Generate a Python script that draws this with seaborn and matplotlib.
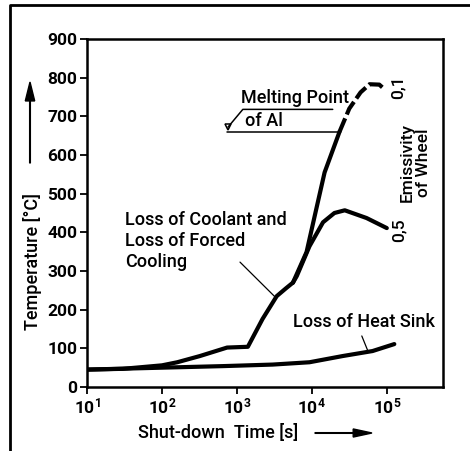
import numpy as np
import pandas as pd
import seaborn as sns
import matplotlib.pyplot as plt
from matplotlib.lines import Line2D
from matplotlib.patches import FancyArrow
from matplotlib.ticker import LogLocator, NullLocator

# ---------------------------------------
# Data
# ---------------------------------------
# common branch of "loss of coolant and loss of forced cooling"
t_shared = [10, 30, 100, 160, 320, 740, 1400, 2200, 3400, 4500, 5600]
T_shared = [45, 47, 56, 64, 80, 102, 104, 176, 235, 255, 270]

# emissivity 0.1 - solid up to melting point, dashed above
t_e01 = [5600, 8500, 11700, 14800, 23400]
T_e01 = [270, 349, 468, 555, 660]
t_e01_dash = [23400, 31600, 44700, 58900, 79400, 93300]
T_e01_dash = [660, 720, 762, 783, 782, 770]

# emissivity 0.5
t_e05 = [5600, 6300, 9300, 14100, 20000, 27500, 53700, 100000]
T_e05 = [270, 287, 364, 426, 450, 457, 437, 411]

# loss of heat sink
t_sink = [10, 100, 646, 3000, 9300, 25700, 64600, 126000]
T_sink = [45, 50, 54, 58, 64, 80, 93, 111]

melting_point = 660
y_ticks = [0, 100, 200, 300, 400, 500, 600, 700, 800, 900]

# ---------------------------------------
# Theme
# ---------------------------------------
sns.set_theme(style="ticks")
plt.rcParams["font.family"] = ["Roboto", "Liberation Sans", "DejaVu Sans"]
plt.rcParams["font.weight"] = "medium"
for key in ["text.color", "axes.labelcolor", "xtick.color", "ytick.color"]:
    plt.rcParams[key] = "black"

fig = plt.figure(figsize=(4.70, 4.51), dpi=100)
ax = fig.add_axes([87 / 470, 1 - 387 / 451, (443 - 87) / 470, (387 - 39) / 451])

lw = 3.0
for t, T in [(t_shared, T_shared), (t_e01, T_e01), (t_e05, T_e05), (t_sink, T_sink)]:
    sns.lineplot(x=t, y=T, ax=ax, color="black", lw=lw, sort=False,
                 solid_capstyle="round", solid_joinstyle="round")
sns.lineplot(x=t_e01_dash, y=T_e01_dash, ax=ax, color="black", lw=lw,
             sort=False)
ax.lines[-1].set_dashes((3.5, 1.0))
ax.lines[-1].set_dash_capstyle("butt")

ax.set_xscale("log")
ax.set_xlim(10, 10 ** 5.75)
ax.set_ylim(0, 900)
ax.set_yticks(y_ticks)
ax.xaxis.set_major_locator(LogLocator(base=10, numticks=10))
ax.xaxis.set_minor_locator(NullLocator())

for s in ax.spines.values():
    s.set_linewidth(1.8)
    s.set_color("black")
ax.tick_params(axis="both", direction="out", length=5, width=1.3,
               labelsize=12.5, pad=2)
for lab in ax.get_xticklabels() + ax.get_yticklabels():
    lab.set_fontweight("bold")

# ---------------------------------------
# Melting point annotation
# ---------------------------------------
ax.plot([740, 23400], [melting_point, melting_point], color="black", lw=1.1)
ax.plot([760], [672], marker="v", ms=5, mfc="white", mec="black", mew=1.1)
ax.plot([760, 1200, 19000], [672, 718, 718], color="black", lw=1.1)
ax.text(1120, 724, "Melting Point", fontsize=13, ha="left", va="bottom")
ax.text(1300, 688, "of Al", fontsize=13, ha="left", va="center")

# ---------------------------------------
# Curve labels
# ---------------------------------------
ax.text(32, 455, "Loss of Coolant and\nLoss of Forced\nCooling", fontsize=13,
        ha="left", va="top", linespacing=1.2)
ax.plot([1100, 3230], [323, 233], color="black", lw=0.9)
ax.text(5600, 168, "Loss of Heat Sink", fontsize=13, ha="left", va="center")
ax.plot([46400, 56000], [132, 93], color="black", lw=0.9)

ax.text(141000, 775, "0,1", fontsize=12.5, rotation=90, ha="center", va="center")
ax.text(147000, 406, "0,5", fontsize=12.5, rotation=90, ha="center", va="center")
ax.text(240000, 581, "Emissivity\nof Wheel", fontsize=12.5, rotation=90,
        ha="center", va="center", linespacing=1.05, multialignment="center")

# ---------------------------------------
# Axis labels with arrows
# ---------------------------------------
fig.text(32 / 470, 1 - 261 / 451, "Temperature [°C]", rotation=90,
         fontsize=13, ha="center", va="center")
fig.text(218 / 470, 1 - 433 / 451, "Shut-down  Time [s]", fontsize=13,
         ha="center", va="center")
fig.add_artist(FancyArrow(
    30 / 470, 1 - 163 / 451, 0, (163 - 82) / 451, width=0.0015,
    head_width=0.02, head_length=0.042, length_includes_head=True,
    color="black", transform=fig.transFigure))
fig.add_artist(FancyArrow(
    315 / 470, 1 - 433 / 451, (372 - 315) / 470, 0, width=0.0015,
    head_width=0.018, head_length=0.04, length_includes_head=True,
    color="black", transform=fig.transFigure))

# outer frame (left and top only)
fig.add_artist(Line2D([10 / 470, 10 / 470, 1.0], [0.0, 1 - 5 / 451, 1 - 5 / 451],
                      color="black", lw=2.0, transform=fig.transFigure))

fig.savefig("out.png", dpi=100, facecolor="white")
